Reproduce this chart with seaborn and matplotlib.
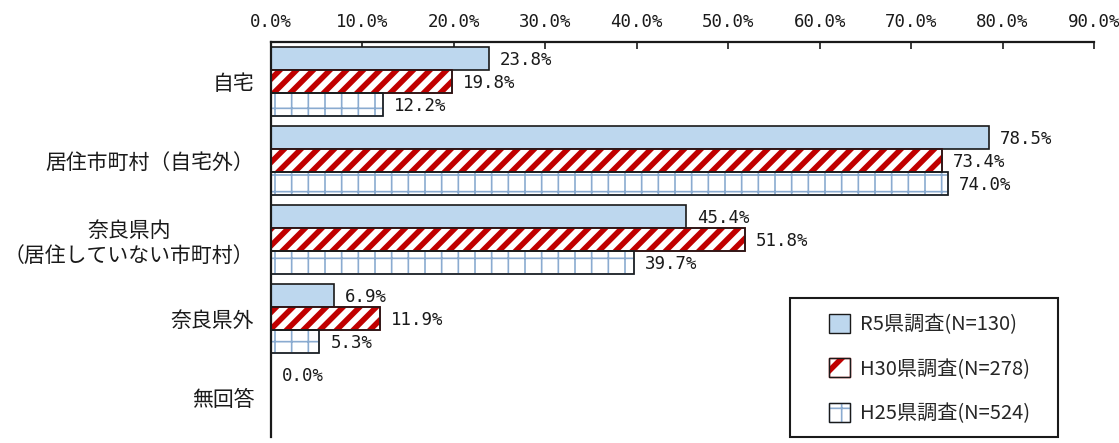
import numpy as np
import pandas as pd
import matplotlib
matplotlib.use("Agg")
import matplotlib.pyplot as plt
import seaborn as sns
from matplotlib.patches import Patch, Rectangle
from matplotlib.legend_handler import HandlerPatch

categories = ["自宅", "居住市町村（自宅外）", "奈良県内\n（居住していない市町村）", "奈良県外", "無回答"]
series = ["R5県調査(N=130)", "H30県調査(N=278)", "H25県調査(N=524)"]
r5 = [23.8, 78.5, 45.4, 6.9, 0.0]
h30 = [19.8, 73.4, 51.8, 11.9, np.nan]
h25 = [12.2, 74.0, 39.7, 5.3, np.nan]
xticks = [0, 10, 20, 30, 40, 50, 60, 70, 80, 90]

rows = []
for s, vals in zip(series, [r5, h30, h25]):
    for c, v in zip(categories, vals):
        rows.append({"cat": c, "series": s, "value": v})
df = pd.DataFrame(rows)

sns.set_theme(style="white")
plt.rcParams['font.family'] = ['Noto Sans CJK JP', 'DejaVu Sans']

fig = plt.figure(figsize=(11.19, 4.43), dpi=100)
ax = fig.add_axes([0.2422, 0.0135, 0.7355, 0.8917])

sns.barplot(data=df, y="cat", x="value", hue="series", order=categories,
            hue_order=series, orient="h", width=0.87, ax=ax, legend=False,
            saturation=1, errorbar=None)

DARK = "#1a1a1a"
styles = [
    dict(facecolor="#bdd7ee", hatch=None, hcol=None, hlw=None),
    dict(facecolor="white", hatch="//", hcol="#c00000", hlw=4.0),
    dict(facecolor="white", hatch="+", hcol="#8aabd0", hlw=1.2),
]


def apply_hatch(p, st):
    p.set_facecolor(st["facecolor"])
    if st["hatch"]:
        p.set_hatch(st["hatch"])
        p.set_edgecolor(st["hcol"])
        if hasattr(p, "set_hatch_linewidth"):
            p.set_hatch_linewidth(st["hlw"])
    else:
        p.set_edgecolor(DARK)


for cont, st, vals in zip(ax.containers, styles, [r5, h30, h25]):
    for bar, v in zip(cont.patches, vals):
        bar.set_linewidth(1.2)
        apply_hatch(bar, st)
        if st["hatch"] and not np.isnan(v):
            ax.add_patch(Rectangle(bar.get_xy(), bar.get_width(), bar.get_height(),
                                   fill=False, edgecolor=DARK, linewidth=1.2))
        if not np.isnan(v):
            y = bar.get_y() + bar.get_height() / 2
            ax.annotate(f"{v:.1f}%", xy=(v, y), xytext=(8, -1), textcoords="offset points",
                        va="center", ha="left", fontsize=12.5, family="DejaVu Sans Mono",
                        color=DARK)

ax.set_xlim(0, 90)
ax.set_ylim(4.5, -0.5)
ax.set_xticks(xticks)
ax.set_xticklabels([f"{t:.1f}%" for t in xticks], family="DejaVu Sans Mono", fontsize=12.5)
ax.xaxis.tick_top()
ax.tick_params(axis="x", which="both", top=True, direction="in", length=5, width=1.2,
               pad=8, colors=DARK)
ax.tick_params(axis="y", left=False, labelsize=15, pad=6, colors=DARK)
for lbl in ax.get_yticklabels():
    lbl.set_multialignment("center")
ax.set_xlabel("")
ax.set_ylabel("")
for side in ["right", "bottom"]:
    ax.spines[side].set_visible(False)
for side in ["left", "top"]:
    ax.spines[side].set_visible(True)
    ax.spines[side].set_color(DARK)
    ax.spines[side].set_linewidth(1.6)

# legend frame drawn manually
x0, w, h = 0.6306, 0.3256, 0.352
ax.add_patch(Rectangle((x0, 0.0), w, h, transform=ax.transAxes, fill=True,
                       facecolor="white", edgecolor=DARK, linewidth=1.5, zorder=5,
                       clip_on=False))


class HatchHandler(HandlerPatch):
    def __init__(self, st, **kw):
        super().__init__(**kw)
        self.st = st

    def create_artists(self, legend, orig_handle, xdescent, ydescent, width, height,
                       fontsize, trans):
        arts = super().create_artists(legend, orig_handle, xdescent, ydescent, width,
                                      height, fontsize, trans)
        p = arts[0]
        p.set_hatch(self.st["hatch"][0])
        p.set_edgecolor(self.st["hcol"])
        if hasattr(p, "set_hatch_linewidth"):
            p.set_hatch_linewidth(self.st["hlw"])
        border = Rectangle((-xdescent, -ydescent), width, height, fill=False,
                           edgecolor=DARK, linewidth=1.0, transform=trans)
        return [p, border]


handles = []
hmap = {}
for st, s in zip(styles, series):
    hp = Patch(facecolor=st["facecolor"], edgecolor=DARK, linewidth=1.0)
    if st["hatch"]:
        hmap[hp] = HatchHandler(st)
    handles.append(hp)
leg = ax.legend(handles=handles, labels=series, loc="center",
                bbox_to_anchor=(x0 + w / 2 + 0.007, h / 2 - 0.004),
                frameon=False, fontsize=14.5, handler_map=hmap,
                handlelength=1.05, handleheight=1.05, labelspacing=1.15, borderpad=0.0,
                handletextpad=0.5, borderaxespad=0.0)
leg.set_zorder(6)

fig.savefig("out.png", dpi=100)
